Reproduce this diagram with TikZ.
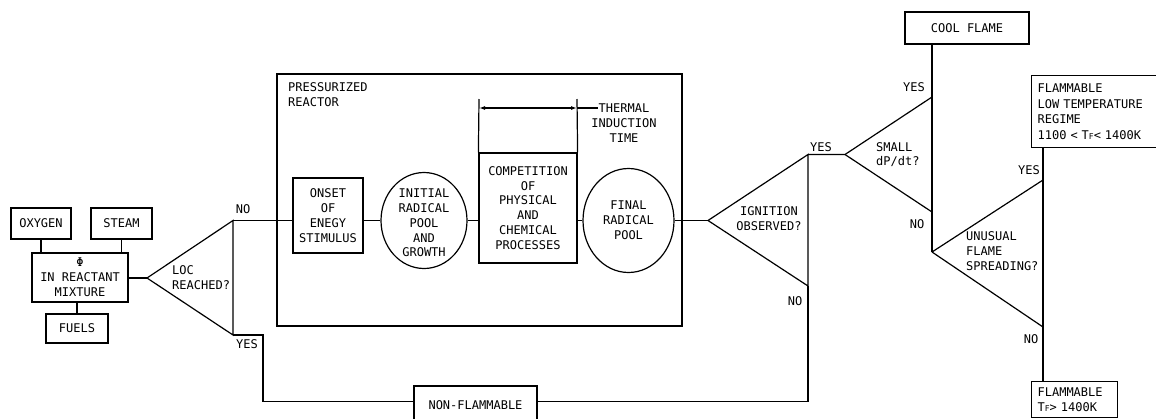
\documentclass[tikz,border=0pt]{standalone}
\usepackage{fontspec}
\setmonofont{DejaVu Sans Mono}
\usetikzlibrary{arrows.meta,shapes.geometric}
\newcommand{\dfont}{\ttfamily\fontsize{12}{14.8}\selectfont}
\newcommand{\TF}{T{\fontsize{8}{8}\selectfont F}}
\tikzset{
  lw/.style={line width=1.2pt},
  wire/.style={lw},
  box/.style={draw, lw, rectangle, inner sep=0pt, font=\dfont, align=center},
  ell/.style={draw, lw, ellipse, inner sep=0pt},
  txt/.style={inner sep=0pt, font=\dfont, align=center},
  ltxt/.style={inner sep=0pt, font=\dfont, align=left, anchor=west},
  dim/.style={lw, {Latex[length=6pt,width=4pt]}-{Latex[length=6pt,width=4pt]}},
}
\begin{document}
\begin{tikzpicture}[x=1pt,y=-1pt]
\useasboundingbox (0,0) rectangle (1156,418);
\clip (0,0) rectangle (1156,418);

% input boxes
\node[box, minimum width=60, minimum height=31] (oxy) at (41,223.5) {OXYGEN};
\node[box, minimum width=61, minimum height=31] (steam) at (121.5,223.5) {STEAM};
\node[box, minimum width=96, minimum height=49] (mix) at (80,277.5) {Φ\\IN REACTANT\\MIXTURE};
\node[box, minimum width=62, minimum height=29] (fuels) at (77,328.5) {FUELS};
\draw[wire] (oxy.south) -- (oxy.south |- mix.north);
\draw[wire] (steam.south) -- (steam.south |- mix.north);
\draw[wire] (fuels.north) -- (fuels.north |- mix.south);

% LOC decision
\coordinate (loctip) at (147,278);
\coordinate (loctop) at (233,220.5);
\coordinate (locbot) at (233,335);
\coordinate (yesbend) at (263,335);
\coordinate (nfbend) at (263,401.5);
\draw[wire] (loctip) -- (loctop) -- (locbot) -- cycle;
\draw[wire] (loctip -| mix.east) -- (loctip);
\node[ltxt] (locq) at (172,277.5) {LOC\\REACHED?};
\node[txt] (locno) at (243,209) {NO};
\node[txt] (locyes) at (247,344) {YES};

% reactor
\node[draw, lw, minimum width=405, minimum height=252, inner sep=0pt] (reactor) at (479.5,200) {};
\node[ltxt] (reactT) at (288,94.5) {PRESSURIZED\\REACTOR};
\node[box, minimum width=70, minimum height=75] (onset) at (328,215.5) {ONSET\\OF\\ENEGY\\STIMULUS};
\node[ell, minimum width=86, minimum height=96] (init) at (424,220.5) {};
\node[txt] (initT) at (424,223) {INITIAL\\RADICAL\\POOL\\AND\\GROWTH};
\node[box, minimum width=98, minimum height=110] (comp) at (528,208) {COMPETITION\\OF\\PHYSICAL\\AND\\CHEMICAL\\PROCESSES};
\node[ell, minimum width=91, minimum height=104] (final) at (628.5,220.5) {};
\node[txt] (finalT) at (628.5,220.5) {FINAL\\RADICAL\\POOL};

\draw[wire] (loctop) -- (loctop -| onset.west);
\draw[wire] (onset.east |- loctop) -- (init.west |- loctop);
\draw[wire] (init.east |- loctop) -- (comp.west |- loctop);
\draw[wire] (comp.east |- loctop) -- (final.west |- loctop);

% thermal induction time dimension
\coordinate (extL) at (479,99);
\coordinate (extR) at (577,99);
\coordinate (dimL) at (479,108);
\coordinate (dimR) at (577,108);
\coordinate (thermEnd) at (598,108);
\draw[wire] (comp.north west) -- (extL);
\draw[wire] (comp.north east) -- (extR);
\draw[dim] (dimL) -- (dimR);
\draw[wire] (dimR) -- (thermEnd);
\node[txt] (thermT) at (624,123) {THERMAL\\INDUCTION\\TIME};

% ignition decision
\coordinate (igntip) at (708,220.5);
\coordinate (igntop) at (808,154.5);
\coordinate (ignbot) at (808,286);
\coordinate (ignfoot) at (808,401.5);
\draw[wire] (final.east |- loctop) -- (igntip);
\draw[wire] (igntip) -- (igntop) -- (ignbot) -- cycle;
\node[txt] (ignq) at (769,218.5) {IGNITION\\OBSERVED?};
\node[txt] (ignyes) at (821,147) {YES};
\node[txt] (ignno) at (795,301) {NO};

% non-flammable
\node[box, minimum width=123, minimum height=38] (nonf) at (475.5,405) {NON-FLAMMABLE};
\draw[wire] (locbot) -- (yesbend) -- (nfbend) -- (nfbend -| nonf.west);
\draw[wire] (ignbot) -- (ignfoot) -- (ignfoot -| nonf.east);

% small dP/dt decision
\coordinate (smtip) at (845,154.5);
\coordinate (smtop) at (932,97);
\coordinate (smbot) at (932,212);
\coordinate (untip) at (932,252);
\node[box, minimum width=124, minimum height=32] (cool) at (967,28) {COOL FLAME};
\draw[wire] (igntop) -- (smtip) -- (smtop);
\draw[wire] (smtip) -- (smbot);
\draw[wire] (smtop |- cool.south) -- (untip);
\node[ltxt] (smq) at (876,154.5) {SMALL\\dP/dt?};
\node[txt] (smyes) at (914,87) {YES};
\node[txt] (smno) at (917,224) {NO};

% unusual flame spreading decision
\coordinate (untop) at (1043,180);
\coordinate (unbot) at (1043,327);
\draw[wire] (untip) -- (untop);
\draw[wire] (untip) -- (unbot);
\node[ltxt] (unq) at (966,251) {UNUSUAL\\FLAME\\SPREADING?};
\node[txt] (unyes) at (1029,170) {YES};
\node[txt] (unno) at (1031,339) {NO};

\node[box, align=left, text width=117, inner xsep=6pt, minimum height=72, anchor=north west,
      font={\ttfamily\fontsize{12}{15.5}\selectfont}] (flamlow) at (1031,75)
      {FLAMMABLE\\LOW TEMPERATURE\\REGIME\\1100 < \TF< 1400K};
\node[box, align=left, text width=74, inner xsep=6pt, minimum height=35.5, anchor=north west] (flam) at (1031,381)
      {FLAMMABLE\\\TF> 1400K};
\draw[wire] (untop |- flamlow.south) -- (untop |- flam.north);
\end{tikzpicture}
\end{document}
